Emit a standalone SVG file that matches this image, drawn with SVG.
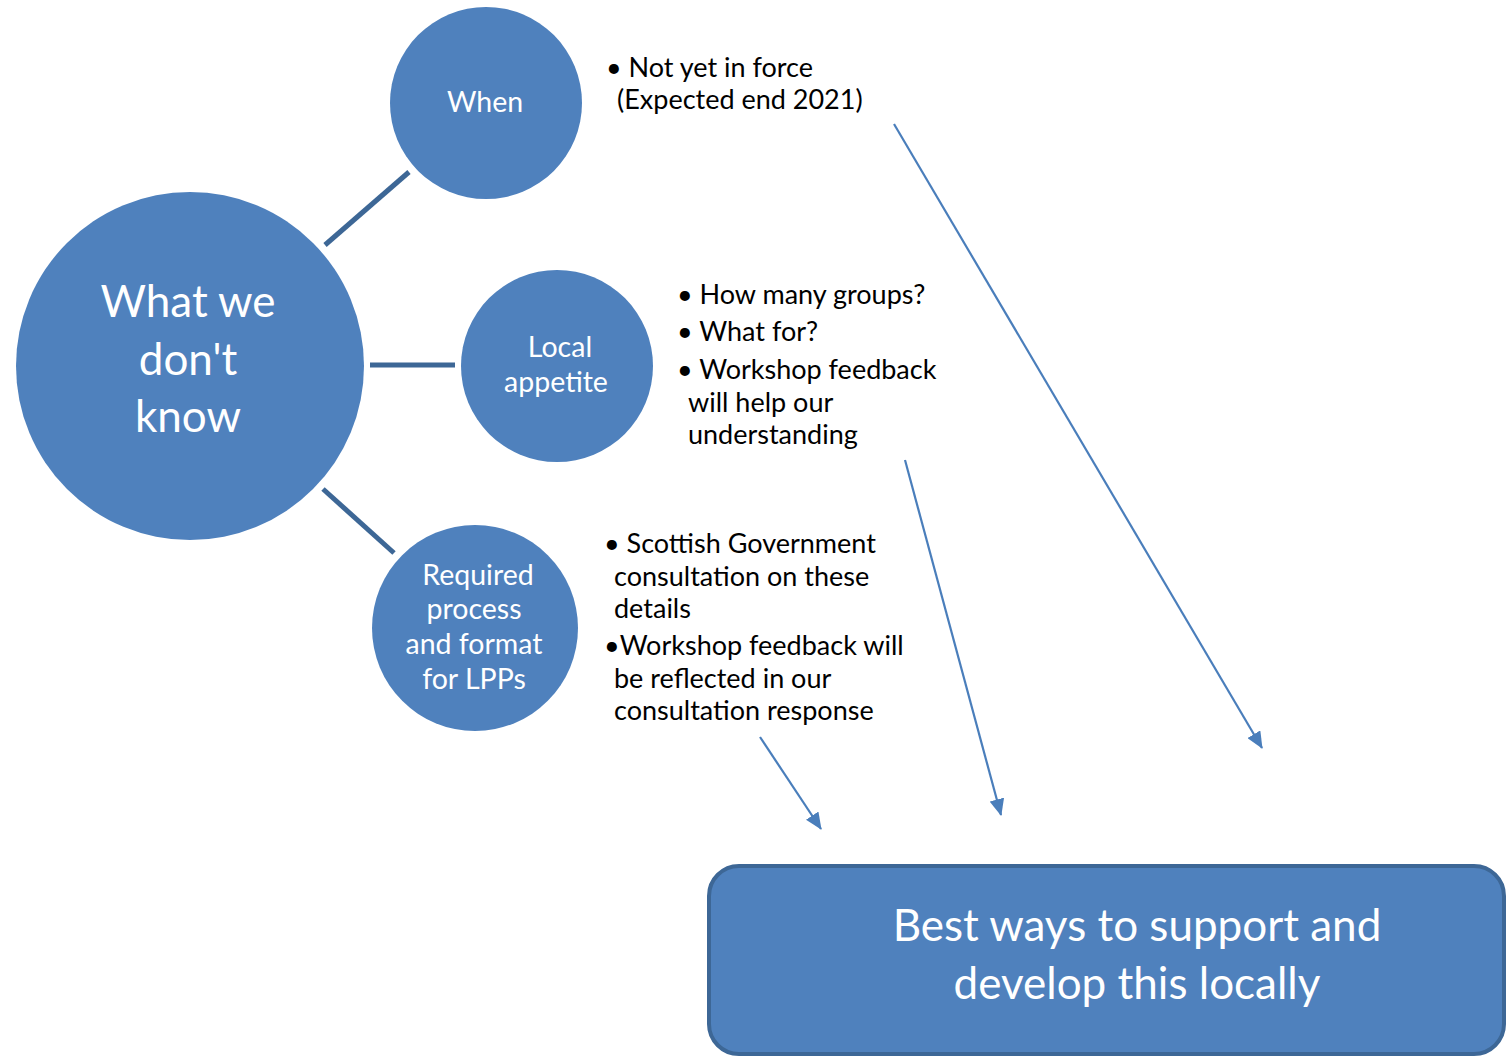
<svg xmlns="http://www.w3.org/2000/svg" width="1506" height="1056" viewBox="0 0 1506 1056">
<style>
.node{fill:#4f81bd}
.wt{fill:#ffffff;font-family:Lato,"Open Sans",sans-serif;text-anchor:middle}
.bt{fill:#000000;font-family:Lato,"Open Sans",sans-serif;font-size:27px}
.link{stroke:#3d6796;stroke-width:5;fill:none}
.arr{stroke:#4a7ebb;stroke-width:2.2;fill:none;marker-end:url(#ah)}
</style>
<defs>
<marker id="ah" markerWidth="17" markerHeight="15" refX="16" refY="7.5" orient="auto" markerUnits="userSpaceOnUse" viewBox="0 0 17 15">
<path d="M0,0 L17,7.5 L0,15 Z" fill="#4a7ebb"/>
</marker>
</defs>
<rect width="1506" height="1056" fill="#ffffff"/>
<g id="connectors">
<line class="link" x1="325" y1="245" x2="409" y2="172"/>
<line class="link" x1="370" y1="365" x2="455" y2="365"/>
<line class="link" x1="323" y1="489" x2="394" y2="553"/>
<line class="arr" x1="894" y1="124" x2="1262" y2="748"/>
<line class="arr" x1="905" y1="460" x2="1001" y2="815"/>
<line class="arr" x1="760" y1="737" x2="821" y2="829"/>
</g>
<g id="main">
<circle class="node" cx="190" cy="366" r="174"/>
<text class="wt" font-size="44" x="188" y="317">What we</text>
<text class="wt" font-size="44" x="188" y="375">don't</text>
<text class="wt" font-size="44" x="188" y="432">know</text>
</g>
<g id="when">
<circle class="node" cx="486" cy="103" r="96"/>
<text class="wt" font-size="28.5" x="485" y="112">When</text>
</g>
<g id="local">
<circle class="node" cx="557" cy="366" r="96"/>
<text class="wt" font-size="28.5" x="560" y="357">Local</text>
<text class="wt" font-size="28.5" x="556" y="392">appetite</text>
</g>
<g id="required">
<circle class="node" cx="475" cy="628" r="103"/>
<text class="wt" font-size="28.5" x="478" y="585">Required</text>
<text class="wt" font-size="28.5" x="474" y="619">process</text>
<text class="wt" font-size="28.5" x="474" y="654">and format</text>
<text class="wt" font-size="28.5" x="474" y="689">for LPPs</text>
</g>
<g id="when-notes">
<text class="bt" x="606" y="77">• Not yet in force</text>
<text class="bt" x="617" y="109">(Expected end 2021)</text>
</g>
<g id="local-notes">
<text class="bt" x="677" y="304">• How many groups?</text>
<text class="bt" x="677" y="341">• What for?</text>
<text class="bt" x="677" y="379">• Workshop feedback</text>
<text class="bt" x="688" y="412">will help our</text>
<text class="bt" x="688" y="444">understanding</text>
</g>
<g id="required-notes">
<text class="bt" x="604" y="553">• Scottish Government</text>
<text class="bt" x="614" y="586">consultation on these</text>
<text class="bt" x="614" y="618">details</text>
<text class="bt" x="604" y="655">•Workshop feedback will</text>
<text class="bt" x="614" y="688">be reflected in our</text>
<text class="bt" x="614" y="720">consultation response</text>
</g>
<g id="best">
<rect x="709" y="866" width="795" height="188" rx="30" ry="30" fill="#4f81bd" stroke="#3d6796" stroke-width="4"/>
<text class="wt" font-size="44" x="1137" y="941">Best ways to support and</text>
<text class="wt" font-size="44" x="1137" y="999">develop this locally</text>
</g>
</svg>
